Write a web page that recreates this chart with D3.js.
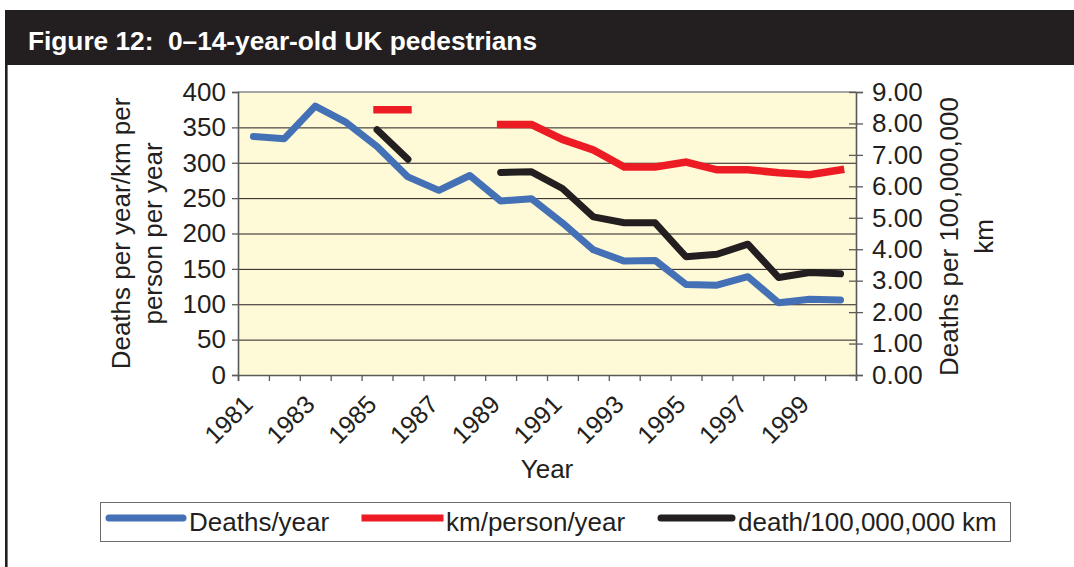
<!DOCTYPE html>
<html>
<head>
<meta charset="utf-8">
<script src="https://cdn.jsdelivr.net/npm/d3@7"></script>
<style>
  html, body { margin: 0; padding: 0; background: #fff; }
  svg text { font-family: "Liberation Sans", Arial, Helvetica, sans-serif; fill: #231f20; }
</style>
</head>
<body>
<svg id="chart" width="1074" height="567"></svg>
<script>
// chart values
var years = [1981, 1982, 1983, 1984, 1985, 1986, 1987, 1988, 1989, 1990,
             1991, 1992, 1993, 1994, 1995, 1996, 1997, 1998, 1999, 2000];
var deaths_per_year = [337, 334, 380, 357, 323, 280, 261, 282, 246, 249,
                       215, 177, 161, 162, 128, 127, 139, 102, 107, 106];
var km_per_person = [null, null, null, null, 375, 375, null, null, 354, 354,
                     333, 318, 294, 294, 301, 290, 290, 286, 283, 290];
var deaths_per_100m_km = [null, null, null, null, 7.80, 6.86, null, null, 6.44, 6.46,
                          5.93, 5.03, 4.84, 4.84, 3.76, 3.84, 4.16, 3.10, 3.26, 3.22];

var left_ticks = [0, 50, 100, 150, 200, 250, 300, 350, 400];
var right_ticks = [0, 1, 2, 3, 4, 5, 6, 7, 8, 9];
var year_labels = [1981, 1983, 1985, 1987, 1989, 1991, 1993, 1995, 1997, 1999];

var title = "Figure 12:  0\u201314-year-old UK pedestrians";
var left_title = ["Deaths per year/km per", "person per year"];
var right_title = ["Deaths per 100,000,000", "km"];
var series_names = ["Deaths/year", "km/person/year", "death/100,000,000 km"];

var blue = "#4470b6", red = "#ed1c24", black = "#231f20";

/* plot box */
var plot_left = 238, plot_right = 856, plot_top = 92, plot_bottom = 375;

var svg = d3.select("#chart");

// header band and left border
svg.append("rect").attr("x", 5).attr("y", 10).attr("width", 1069).attr("height", 55)
    .attr("fill", "#231f20");
svg.append("line").attr("x1", 6.3).attr("x2", 6.3).attr("y1", 65).attr("y2", 567)
    .attr("stroke", "#231f20").attr("stroke-width", 2.6);
svg.append("text").attr("x", 28).attr("y", 50)
    .attr("font-size", 26).attr("font-weight", "bold")
    .attr("textLength", 509).attr("lengthAdjust", "spacingAndGlyphs")
    .style("fill", "#fff").style("white-space", "pre")
    .text(title);

var x = d3.scaleBand().domain(years).range([plot_left, plot_right]);
var x_edges = d3.scaleLinear().domain([0, years.length]).range([plot_left, plot_right]);
var y_left = d3.scaleLinear().domain([0, 400]).range([plot_bottom, plot_top]);
var y_right = d3.scaleLinear().domain([0, 9]).range([plot_bottom, plot_top]);

function cx(i) { return x(years[i]) + x.bandwidth() / 2; }

// plot background + grid
svg.append("rect").attr("x", plot_left).attr("y", plot_top)
    .attr("width", plot_right - plot_left).attr("height", plot_bottom - plot_top)
    .attr("fill", "#fef9d6");
svg.append("g").selectAll("line").data(left_ticks.slice(1, -1)).join("line")
    .attr("x1", plot_left).attr("x2", plot_right)
    .attr("y1", function (d) { return y_left(d) + 0.5; })
    .attr("y2", function (d) { return y_left(d) + 0.5; })
    .attr("stroke", "#231f20").attr("stroke-width", 1);
svg.append("line").attr("x1", plot_left).attr("x2", plot_right)
    .attr("y1", plot_top).attr("y2", plot_top)
    .attr("stroke", "#a6a6a6").attr("stroke-width", 2);

// axes
function style_axis(g) {
    g.select(".domain").attr("stroke", "#5a5a5a").attr("stroke-width", 1.6);
    g.selectAll(".tick line").attr("stroke", "#5a5a5a").attr("stroke-width", 1.3);
    g.selectAll(".tick text").attr("font-size", 26).style("fill", "#231f20")
        .attr("font-family", "Liberation Sans, Arial, sans-serif");
}

var left_axis = svg.append("g").attr("transform", "translate(" + plot_left + ",0)")
    .call(d3.axisLeft(y_left).tickValues(left_ticks).tickSizeOuter(0)
        .tickSize(6).tickPadding(6));
style_axis(left_axis);

var right_axis = svg.append("g").attr("transform", "translate(" + plot_right + ",0)")
    .call(d3.axisRight(y_right).tickValues(right_ticks).tickSizeOuter(0)
        .tickSize(7).tickPadding(9).tickFormat(d3.format(".2f")));
style_axis(right_axis);
right_axis.selectAll(".tick line").attr("x1", -7);

var bottom_axis = svg.append("g").attr("transform", "translate(0," + plot_bottom + ")")
    .call(d3.axisBottom(x_edges).tickValues(d3.range(0, years.length + 1))
        .tickSizeOuter(0).tickSize(6).tickFormat(""));
style_axis(bottom_axis);

// rotated year labels
svg.append("g").selectAll("text").data(year_labels).join("text")
    .attr("transform", function (d) {
        return "translate(" + (x(d) + x.bandwidth() / 2 + 1) + ",406) rotate(-45)";
    })
    .attr("text-anchor", "end").attr("font-size", 25)
    .text(function (d) { return d; });

// axis titles
svg.append("g").selectAll("text").data(left_title).join("text")
    .attr("transform", function (d, i) {
        return "translate(" + (130 + i * 32) + "," + ((plot_top + plot_bottom) / 2) + ") rotate(-90)";
    })
    .attr("text-anchor", "middle").attr("font-size", 26)
    .text(function (d) { return d; });
svg.append("g").selectAll("text").data(right_title).join("text")
    .attr("transform", function (d, i) {
        return "translate(" + (958 + i * 35) + "," + ((plot_top + plot_bottom) / 2 + 3) + ") rotate(-90)";
    })
    .attr("text-anchor", "middle").attr("font-size", 26)
    .text(function (d) { return d; });
svg.append("text").attr("x", (plot_left + plot_right) / 2).attr("y", 478)
    .attr("text-anchor", "middle").attr("font-size", 26).text("Year");

// series lines
function make_line(yscale) {
    return d3.line()
        .defined(function (d) { return d != null; })
        .x(function (d, i) { return cx(i); })
        .y(function (d) { return yscale(d); });
}

svg.append("path").datum(deaths_per_year)
    .attr("d", make_line(y_left)).attr("fill", "none")
    .attr("stroke", blue).attr("stroke-width", 7)
    .attr("stroke-linejoin", "round").attr("stroke-linecap", "round");
svg.append("path").datum(km_per_person)
    .attr("d", make_line(y_left)).attr("fill", "none")
    .attr("stroke", red).attr("stroke-width", 7.5)
    .attr("stroke-linejoin", "miter").attr("stroke-linecap", "square");
svg.append("path").datum(deaths_per_100m_km)
    .attr("d", make_line(y_right)).attr("fill", "none")
    .attr("stroke", black).attr("stroke-width", 7)
    .attr("stroke-linejoin", "round").attr("stroke-linecap", "round");

// legend
var legend = svg.append("g");
legend.append("rect").attr("x", 100.5).attr("y", 502.5).attr("width", 910).attr("height", 39)
    .attr("fill", "#fff").attr("stroke", "#6d6d6d").attr("stroke-width", 1);
var legend_items = [
    { name: series_names[0], color: blue, cap: "round", x0: 109, x1: 183, tx: 189 },
    { name: series_names[1], color: red, cap: "square", x0: 365, x1: 440, tx: 446 },
    { name: series_names[2], color: black, cap: "round", x0: 661, x1: 732, tx: 738 }
];
legend.selectAll("line").data(legend_items).join("line")
    .attr("x1", function (d) { return d.x0; }).attr("x2", function (d) { return d.x1; })
    .attr("y1", 518).attr("y2", 518)
    .attr("stroke", function (d) { return d.color; }).attr("stroke-width", 7)
    .attr("stroke-linecap", function (d) { return d.cap; });
legend.selectAll("text").data(legend_items).join("text")
    .attr("x", function (d) { return d.tx; }).attr("y", 531)
    .attr("font-size", 26)
    .text(function (d) { return d.name; });
</script>
</body>
</html>
